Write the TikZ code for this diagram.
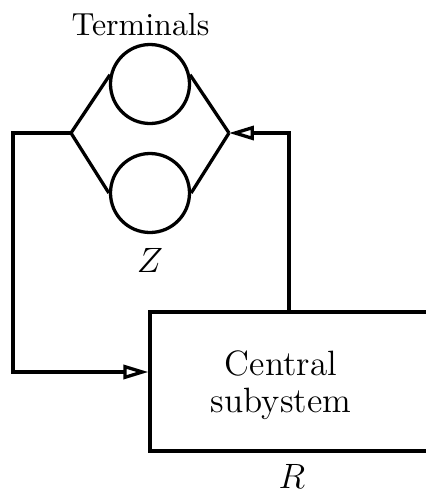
\documentclass[tikz,border=0pt]{standalone}
\usetikzlibrary{arrows.meta}
\begin{document}
\begin{tikzpicture}[x=0.341pt,y=-0.341pt,
  line width=1.12pt,
  term/.style={draw,circle,inner sep=0pt,minimum size=79*0.341pt},
  sysbox/.style={draw,rectangle,inner sep=0pt,minimum width=310*0.341pt,minimum height=139*0.341pt},
  arr/.style={-{Triangle[open,length=8.5pt,width=4.8pt]}},
  lbl/.style={inner sep=0pt},
  big/.style={font=\fontsize{12}{12.6}\selectfont}]
\useasboundingbox (0,0) rectangle (425,493);
\node[term] (top) at (150,84) {};
\node[term] (bot) at (150,193) {};
\coordinate (jl) at (71,133);
\coordinate (jr) at (229,133);
\node[sysbox] (cs) at (305,381.5) {};
\node[align=center,lbl,big] (cst) at (281,385) {Central\\subystem};
\node[lbl,font=\fontsize{10.9}{13}\selectfont] (term) at (140.5,25) {Terminals};
\node[lbl,big] (z) at (150,260) {$Z$};
\node[lbl,big] (r) at (292,476) {$R$};
\draw (jl) -- (top.167);
\draw (jl) -- (bot.west);
\draw (top.13) -- (jr);
\draw (bot.east) -- (jr);
\coordinate (lc) at (13,372);
\coordinate (up) at (289,133);
\draw[arr] (jl) -| (lc) -- (lc -| cs.west);
\draw[arr] (up |- cs.north) -- (up) -- (jr);
\end{tikzpicture}
\end{document}
